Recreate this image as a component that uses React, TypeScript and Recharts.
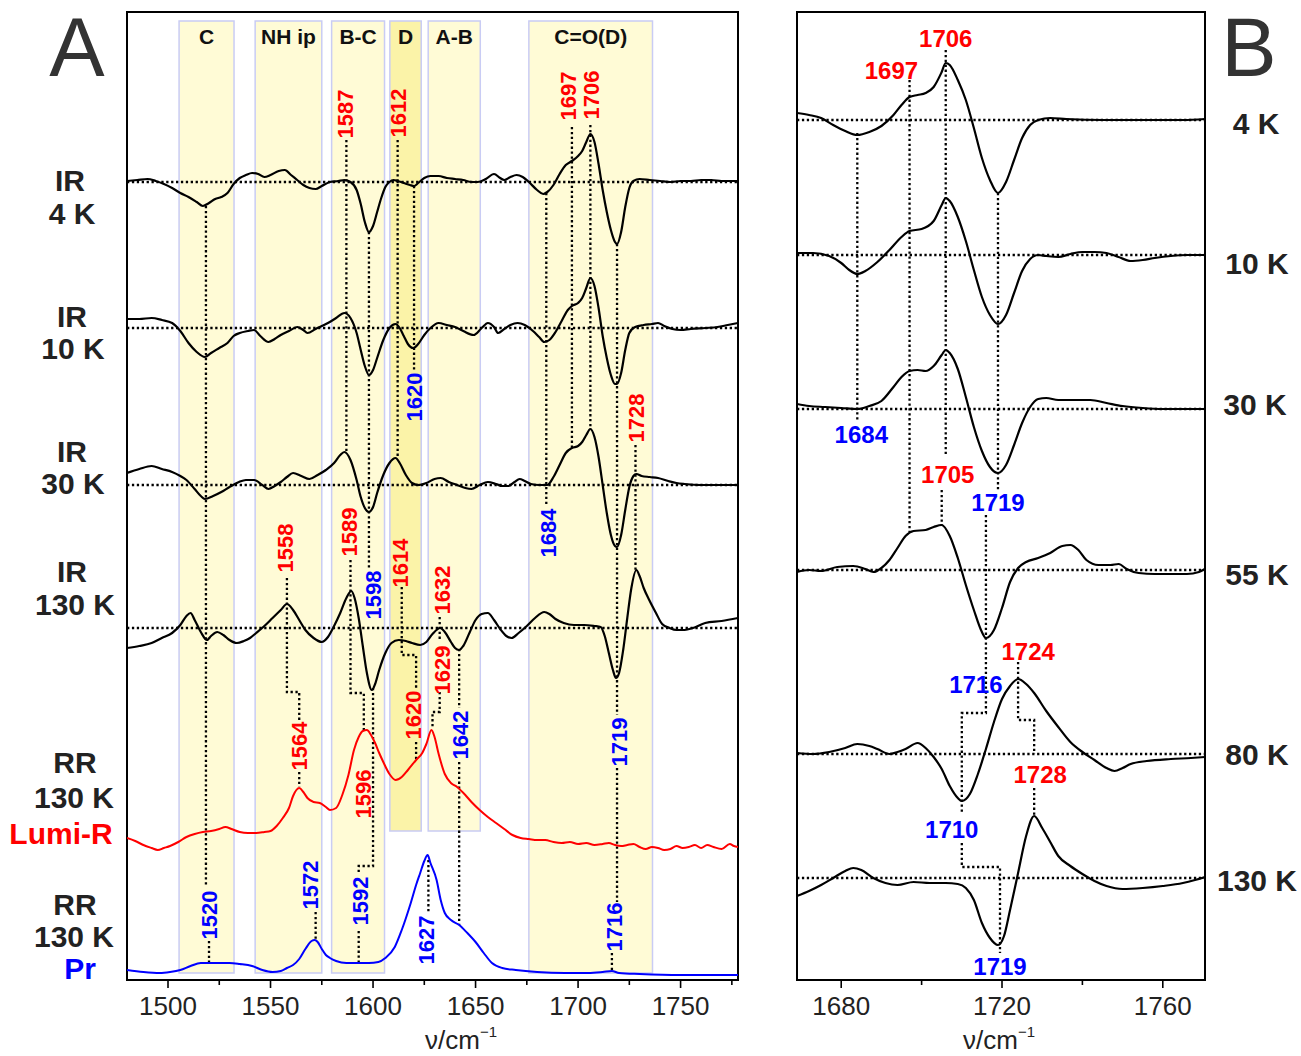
import React from "react";
import {
  ComposedChart,
  Line,
  Scatter,
  XAxis,
  YAxis,
  ReferenceArea,
  ReferenceLine,
} from "recharts";

const FONT = '"Liberation Sans", Arial, sans-serif';
const RED = "#ff0000";
const BLUE = "#0000ff";
const INK = "#222";

// ---- axes ----
const aDomain = [1480, 1778];
const aTicks = [1500, 1525, 1550, 1575, 1600, 1625, 1650, 1675, 1700, 1725, 1750, 1775];
const aMajor = [1500, 1550, 1600, 1650, 1700, 1750];
const bDomain = [1669, 1770.5];
const bTicks = [1680, 1700, 1720, 1740, 1760];
const bMajor = [1680, 1720, 1760];
const yTop = 968;

// ---- panel A marker bands ----
const bandNames = ["C", "NH ip", "B-C", "D", "A-B", "C=O(D)"];
const bandFrom = [1505.4, 1542.5, 1579.8, 1608.2, 1626.9, 1676];
const bandTo = [1532.2, 1575, 1605.6, 1623.5, 1652.3, 1736.3];
const bandLow = [7, 7, 7, 149, 149, 7];
const bandHigh = 959;

// ---- panel A spectra: [wavenumber, signal] ----
const offA4 = 798;
const offA10 = 652;
const offA30 = 495;
const offA130 = 352;
const offLumi = 130;
const offPr = 5;

const irA4 = [
  [1480, 1], [1485, 2], [1490, 3], [1494, 1], [1498, -2], [1502, -6], [1506, -11], [1510, -15],
  [1514, -20], [1517, -24], [1520, -21], [1523, -17], [1526, -15], [1529, -11], [1532, -2], [1535, 4],
  [1538, 7], [1541, 9], [1544, 8], [1547, 5], [1550, 7], [1554, 11], [1557, 12], [1560, 7],
  [1563, 2], [1566, -3], [1569, -6], [1572, -7], [1575, -4], [1579, 0], [1583, 1], [1586, 2],
  [1589, 0], [1592, -8], [1594, -22], [1596, -40], [1598, -50], [1600, -44], [1602, -30], [1604, -16],
  [1606, -5], [1608, 0], [1610, 2], [1612, 1], [1615, -1], [1618, -3], [1620, -4], [1622, -1],
  [1625, 4], [1628, 6], [1632, 6], [1636, 4], [1640, 3], [1644, 2], [1648, 0], [1651, 0],
  [1655, 3], [1659, 8], [1662, 4], [1664, 2], [1667, 5], [1670, 7], [1673, 5], [1676, 0],
  [1680, -8], [1683, -12], [1685, -10], [1688, -3], [1691, 8], [1694, 17], [1697, 21], [1700, 26],
  [1702, 31], [1704, 40], [1706, 48], [1708, 40], [1710, 18], [1712, -8], [1714, -30], [1716, -48],
  [1718, -60], [1719, -62], [1721, -50], [1723, -25], [1725, -6], [1727, 1], [1730, 3], [1735, 2],
  [1740, 1], [1745, 0], [1750, 1], [1755, 1], [1760, 2], [1765, 2], [1770, 1], [1778, 1],
];

const irA10 = [
  [1480, 9], [1486, 9], [1492, 10], [1497, 8], [1502, 5], [1506, -3], [1510, -15], [1514, -24],
  [1518, -29], [1521, -25], [1525, -20], [1529, -15], [1532, -8], [1535, -5], [1539, -3], [1542, -2],
  [1545, -8], [1549, -14], [1552, -11], [1555, -7], [1559, -3], [1563, 1], [1566, -2], [1568, -5],
  [1572, -1], [1578, 5], [1582, 10], [1586, 15], [1589, 10], [1592, -5], [1594, -22], [1596, -38],
  [1598, -47], [1600, -42], [1602, -30], [1605, -12], [1608, 0], [1611, 4], [1613, 0], [1615, -8],
  [1617, -16], [1619.5, -20], [1622, -16], [1625, -7], [1628, 0], [1632, 5], [1636, 3], [1640, 1],
  [1644, -3], [1649, -7], [1653, 0], [1656, 5], [1659, 1], [1661, -5], [1664, -1], [1667, 3],
  [1670.5, 5], [1674, 3], [1678, -3], [1681, -9], [1683.5, -14], [1686, -12], [1689, -4], [1692, 7],
  [1695, 18], [1697, 22], [1700, 25], [1702, 30], [1704, 40], [1706, 50], [1708, 42], [1710, 20],
  [1712, -8], [1714, -30], [1716, -47], [1718, -56], [1719, -56], [1721, -45], [1723, -22], [1725, -5],
  [1727.8, 1], [1732, 3], [1736, 4], [1739, 5], [1742, 2], [1746, -1], [1750, -2], [1755, -1],
  [1762, 0], [1768, 1], [1773, 3], [1778, 5],
];

const irA30 = [
  [1480, 12], [1486, 16], [1492, 19], [1497, 16], [1502, 13], [1506, 9], [1509, 5], [1513, -4],
  [1516, -11], [1518, -14], [1522, -11], [1526, -7], [1530, -2], [1534.6, 3], [1538, 5], [1542, 5],
  [1546, 0], [1549, -4], [1552, -1], [1555, 3], [1558, 8], [1561, 12], [1565, 9], [1569, 6],
  [1573, 10], [1577, 15], [1581, 22], [1584, 30], [1586, 33], [1589, 25], [1592, 5], [1594, -12],
  [1596, -23], [1598, -27], [1600, -22], [1602, -8], [1605, 10], [1608, 22], [1611, 27], [1613, 22],
  [1616, 10], [1619, 2], [1622, 0], [1626, 2], [1630, 6], [1633, 7], [1637, 3], [1641, 0],
  [1645, -3], [1648, -4], [1652, 0], [1656, 3], [1660, 1], [1663, -1], [1666, -1], [1669, 3],
  [1671.5, 6], [1674, 4], [1677, 1], [1681, 0], [1685, 0], [1688, 8], [1691, 20], [1694, 32],
  [1697, 37], [1700, 39], [1702, 43], [1704, 50], [1706, 56], [1708, 48], [1710, 28], [1712, 0],
  [1714, -28], [1716, -50], [1718, -61], [1719, -62], [1721, -50], [1723, -25], [1725, -2], [1727, 9],
  [1728.4, 11], [1731, 9], [1735, 8], [1739, 7], [1744, 4], [1748, 2], [1752, 1], [1760, 0],
  [1770, 0], [1778, 0],
];

const irA130 = [
  [1480, -20], [1486, -18], [1492, -15], [1497, -10], [1502, -5], [1506, 3], [1509, 12], [1511, 15],
  [1513, 8], [1516, -4], [1519, -12], [1521, -8], [1524, -4], [1527, -7], [1530, -12], [1533.6, -15],
  [1537, -13], [1540, -10], [1543, -5], [1547, 2], [1551, 10], [1555, 18], [1558, 24], [1561, 18],
  [1564, 8], [1567, -2], [1571, -10], [1575, -14], [1578, -9], [1581, 2], [1584, 15], [1587, 30],
  [1589.4, 37], [1591, 30], [1593, 10], [1595, -18], [1597, -45], [1599.4, -62], [1601, -56], [1603, -42],
  [1606, -25], [1609, -15], [1612.5, -12], [1616, -13], [1619, -15], [1623, -17], [1626, -14], [1629, -6],
  [1632.8, 0], [1635, -4], [1638, -14], [1640, -20], [1642, -22], [1644, -18], [1647, -5], [1650, 8],
  [1653, 14], [1656, 15], [1659, 8], [1662, -1], [1665, -8], [1667.6, -10], [1671, -5], [1675, 2],
  [1679, 10], [1683.5, 16], [1686, 14], [1689, 9], [1693, 5], [1698, 3], [1703, 3], [1708, 2],
  [1711, 1], [1713, -8], [1715, -25], [1717, -42], [1718.5, -50], [1720, -45], [1722, -22], [1724, 10],
  [1726, 40], [1728.4, 58], [1730, 52], [1732, 40], [1734.7, 28], [1738, 15], [1741, 4], [1744.6, 0],
  [1748, -2], [1752, -2], [1756, 0], [1762, 5], [1770, 7], [1778, 10],
];

const rrLumiR = [
  [1480, 12], [1484, 9], [1488, 5], [1492, 2], [1495, 0], [1498, 2], [1501, 4], [1505, 8],
  [1509, 13], [1513, 16], [1517, 18], [1521, 19], [1525, 21], [1528, 23], [1531, 21], [1535, 18],
  [1539, 17], [1543, 17], [1547, 18], [1550, 19], [1553, 24], [1556, 32], [1559, 42], [1561, 54],
  [1564, 62], [1566, 58], [1568, 52], [1571, 48], [1574, 47], [1577, 43], [1579, 40], [1582, 42],
  [1585, 55], [1588, 75], [1590.7, 100], [1593, 113], [1595, 119], [1597, 120], [1599, 115], [1601, 107],
  [1603, 97], [1605, 88], [1608, 76], [1611, 70], [1614, 73], [1617, 80], [1621, 90], [1624, 97],
  [1626, 106], [1628.5, 120], [1630, 113], [1632, 96], [1635, 76], [1638, 67], [1641, 63], [1645, 55],
  [1648, 48], [1652, 40], [1656, 33], [1660, 27], [1664, 21], [1668, 15], [1672, 12], [1676, 11],
  [1680, 10], [1684, 10], [1688, 8], [1692, 7], [1696, 8], [1700, 6], [1704, 7], [1708, 5],
  [1712, 6], [1715, 7], [1718, 5], [1721, 4], [1724, 5], [1727, 6], [1730, 3], [1733, 1],
  [1736, 3], [1739, 2], [1742, 0], [1745, 1], [1748, 4], [1751, 2], [1754, 3], [1757, 5],
  [1760, 2], [1763, 5], [1766, 3], [1770, 1], [1774, 6], [1776, 4], [1778, 3],
];

const rrPr = [
  [1480, 5], [1488, 3], [1496, 2], [1501, 3], [1506, 5], [1511, 9], [1516, 12], [1520, 12],
  [1525, 12], [1530, 12], [1535, 11], [1541, 9], [1546, 5], [1551, 3], [1555, 4], [1558, 7],
  [1561, 10], [1564, 16], [1567, 26], [1570, 34], [1571.6, 35], [1573, 33], [1575, 26], [1577, 20],
  [1579, 17], [1582, 14], [1587, 12], [1593, 12], [1598, 12], [1602.6, 13], [1606, 17], [1610.6, 28],
  [1614, 45], [1618.4, 72], [1621, 90], [1623, 102], [1625, 114], [1626.6, 120], [1628, 112], [1631, 95],
  [1633, 75], [1635, 62], [1638, 55], [1642, 50], [1646, 42], [1650, 33], [1654, 22], [1658, 12],
  [1663, 7], [1669.6, 5], [1680, 3], [1693.6, 2], [1705, 2], [1712, 3], [1716.5, 4], [1720, 2],
  [1730, 1], [1750, 0], [1778, 0],
];

// ---- panel A peak connectors (wavenumber, height) ----
const aGuides = [
  [[1518.5, 774], [1518.5, 93]],
  [[1520, 39], [1520, 17]],
  [[1558, 402], [1558, 288], [1564, 288], [1564, 260]],
  [[1564, 208], [1564, 193]],
  [[1587, 840], [1587, 528]],
  [[1589, 420], [1589, 287], [1595.5, 287], [1595.5, 250]],
  [[1598, 748], [1598, 412]],
  [[1600, 292], [1600, 114], [1593, 114], [1593, 108]],
  [[1593, 49], [1593, 17]],
  [[1612, 840], [1612, 522]],
  [[1614, 393], [1614, 325], [1621, 325], [1621, 291]],
  [[1621, 238], [1621, 220]],
  [[1620, 794], [1620, 609]],
  [[1632.5, 363], [1632.5, 340]],
  [[1632.5, 288], [1632.5, 268], [1629, 268], [1629, 252]],
  [[1642, 331], [1642, 272]],
  [[1642, 218], [1642, 55]],
  [[1627, 120], [1627, 67]],
  [[1572, 68], [1572, 41]],
  [[1684.5, 787], [1684.5, 475]],
  [[1697, 853], [1697, 533]],
  [[1706, 855], [1706, 551]],
  [[1719, 736], [1719, 265]],
  [[1719, 212], [1719, 78]],
  [[1716.5, 27], [1716.5, 9]],
  [[1728, 535], [1728, 410]],
];

const aRedTags = [
  [1586.5, 866, "1587"], [1612.5, 867, "1612"], [1695.5, 884, "1697"], [1706.5, 885, "1706"],
  [1728.5, 562, "1728"], [1557.5, 432, "1558"], [1588.5, 448, "1589"], [1613.5, 417, "1614"],
  [1634, 390, "1632"], [1564, 234, "1564"], [1619.5, 265, "1620"], [1634, 310, "1629"],
  [1595.5, 186, "1596"],
];
const aBlueTags = [
  [1620, 583, "1620"], [1685.5, 447, "1684"], [1600, 385, "1598"], [1642.5, 245, "1642"],
  [1720, 238, "1719"], [1520, 65, "1520"], [1569.5, 95, "1572"], [1594, 79, "1592"],
  [1626, 40, "1627"], [1718, 53, "1716"],
];

// ---- panel B spectra ----
const offB4 = 860;
const offB10 = 725;
const offB30 = 571;
const offB55 = 410;
const offB80 = 226;
const offB130 = 102;

const irB4 = [
  [1669, 7], [1672, 5], [1675, 2], [1678, -5], [1681, -11], [1684, -15], [1687, -12], [1690, -6],
  [1693, 5], [1695, 15], [1697, 23], [1699, 25], [1701, 27], [1703, 33], [1705, 48], [1706, 57],
  [1707, 55], [1709, 40], [1711, 20], [1713, -8], [1715, -38], [1717, -60], [1719, -73], [1721, -62],
  [1723, -40], [1725, -18], [1727, -5], [1729, 0], [1732, 2], [1736, 1], [1745, 0], [1755, 0],
  [1765, 0], [1770.5, 1],
];
const irB10 = [
  [1669, 2], [1673, 2], [1677, -1], [1680, -8], [1682, -15], [1684, -19], [1686, -16], [1689, -7],
  [1692, 5], [1695, 18], [1697, 24], [1700, 26], [1703, 34], [1705, 50], [1706, 57], [1707, 54],
  [1709, 38], [1711, 14], [1713, -15], [1715, -42], [1717, -60], [1719, -69], [1721, -60], [1723, -38],
  [1725, -16], [1727, -4], [1729, 0], [1731, -1], [1734, -2], [1737, 1], [1740, 3], [1743, 3],
  [1746, 2], [1749, -2], [1752, -6], [1755, -5], [1758, -3], [1762, -1], [1766, 0], [1770.5, 0],
];
const irB30 = [
  [1669, 5], [1672, 3], [1676, 2], [1680, 1], [1684, 0], [1687, 3], [1690, 8], [1693, 22],
  [1695, 32], [1697, 38], [1699, 39], [1701, 38], [1703, 43], [1705, 54], [1706, 59], [1707, 56],
  [1709, 40], [1711, 12], [1713, -18], [1715, -42], [1717, -58], [1719, -64], [1721, -56], [1723, -36],
  [1725, -14], [1727, 2], [1729, 10], [1731, 11], [1734, 9], [1738, 9], [1742, 9], [1746, 6],
  [1750, 3], [1755, 1], [1760, 0], [1770.5, 0],
];
const irB55 = [
  [1669, -2], [1672, 0], [1675, -1], [1679, 3], [1683, 4], [1686, 1], [1688, -2], [1690, 2],
  [1692, 10], [1694, 22], [1696, 34], [1698, 39], [1701, 40], [1703, 43], [1705, 45], [1707, 34],
  [1709, 12], [1711, -15], [1713, -40], [1715, -62], [1716, -68], [1718, -60], [1720, -38], [1722, -12],
  [1724, 2], [1726, 8], [1729, 12], [1732, 17], [1735, 24], [1737, 25], [1739, 20], [1741, 10],
  [1744, 5], [1747, 5], [1749, 6], [1751, 1], [1754, -3], [1758, -4], [1762, -4], [1766, -4],
  [1769, -2], [1770.5, 1],
];
const irB80 = [
  [1669, 1], [1673, 0], [1677, 2], [1681, 6], [1684, 10], [1687, 8], [1689, 5], [1692, 0],
  [1694, 2], [1696, 5], [1699, 11], [1701, 6], [1703, -3], [1705, -15], [1707, -32], [1709, -44],
  [1710, -47], [1712, -40], [1714, -20], [1716, 5], [1718, 32], [1720, 55], [1722, 68], [1724, 75],
  [1726, 70], [1728, 61], [1731, 43], [1734, 27], [1737, 12], [1740, 2], [1743, -6], [1746, -14],
  [1748, -17], [1750, -14], [1752, -10], [1756, -7], [1762, -5], [1767, -4], [1770.5, -3],
];
const irB130 = [
  [1669, -18], [1672, -13], [1675, -7], [1678, 0], [1681, 7], [1683, 10], [1685, 8], [1688, 0],
  [1691, -5], [1694, -7], [1698, -4], [1702, -5], [1706, -5], [1709, -6], [1711, -10], [1713, -22],
  [1715, -45], [1717, -60], [1719, -67], [1720.5, -58], [1722, -32], [1724, 5], [1726, 42], [1728, 62],
  [1730, 50], [1732, 36], [1734, 22], [1737, 12], [1740, 4], [1743, -3], [1746, -8], [1750, -11],
  [1755, -10], [1760, -8], [1765, -5], [1768, -2], [1770.5, 1],
];

const bGuides = [
  [[1706, 930], [1706, 525]],
  [[1705, 490], [1705, 455]],
  [[1697, 900], [1697, 448]],
  [[1684, 847], [1684, 558]],
  [[1719, 787], [1719, 490]],
  [[1716, 465], [1716, 267], [1710, 267], [1710, 168]],
  [[1710, 137], [1710, 113], [1719.5, 113], [1719.5, 27]],
  [[1724, 318], [1724, 260], [1728, 260], [1728, 226]],
  [[1728, 192], [1728, 164]],
];
const bRedTags = [
  [1706, 942, "1706"], [1692.5, 910, "1697"], [1706.5, 506, "1705"], [1726.5, 329, "1724"],
  [1729.5, 206, "1728"],
];
const bBlueTags = [
  [1685, 546, "1684"], [1719, 478, "1719"], [1713.5, 296, "1716"], [1707.5, 151, "1710"],
  [1719.5, 14, "1719"],
];

const shift = (pts: number[][], base: number) => pts.map(([x, d]) => ({ x, y: base + d }));
const pts = (p: number[][]) => p.map(([x, y]) => ({ x, y }));
const tags = (t: any[]) => t.map(([x, y, s]) => ({ x, y, s }));

const TICK_SIZE = 7;
const TICK_MARGIN = 10;

function AxisTick(props: any) {
  const { x, y, payload, majors } = props;
  const major = majors.includes(payload.value);
  const top = y - TICK_SIZE - TICK_MARGIN;
  return (
    <g>
      <line x1={x} x2={x} y1={top} y2={top + (major ? 8 : 5)} stroke="#000" strokeWidth={1.6} />
      {major && (
        <text x={x} y={y} dy="0.71em" textAnchor="middle" fontSize={26} fill={INK} fontFamily={FONT}>
          {payload.value}
        </text>
      )}
    </g>
  );
}

const vTag = (color: string) => (p: any) => (
  <text
    x={p.cx}
    y={p.cy}
    transform={`rotate(-90 ${p.cx} ${p.cy})`}
    textAnchor="middle"
    dominantBaseline="central"
    fontSize={22}
    fontWeight="bold"
    fill={color}
    fontFamily={FONT}
  >
    {p.payload.s}
  </text>
);

const hTag = (color: string) => (p: any) => (
  <text
    x={p.cx}
    y={p.cy}
    textAnchor="middle"
    dominantBaseline="central"
    fontSize={24}
    fontWeight="bold"
    fill={color}
    fontFamily={FONT}
  >
    {p.payload.s}
  </text>
);

const dotted = { stroke: "#000", strokeWidth: 2.3, strokeDasharray: "2.3 2.6" };

function PanelA() {
  return (
    <ComposedChart width={750} height={1056} margin={{ top: 12, right: 12, bottom: 0, left: 127 }}>
      <XAxis
        type="number"
        dataKey="x"
        domain={aDomain}
        allowDataOverflow
        ticks={aTicks}
        interval={0}
        height={76}
        tickSize={TICK_SIZE}
        tickMargin={TICK_MARGIN}
        tickLine={false}
        axisLine={{ stroke: "#000", strokeWidth: 2 }}
        tick={(p: any) => <AxisTick {...p} majors={aMajor} />}
      />
      <YAxis type="number" domain={[0, yTop]} allowDataOverflow hide />
      {bandNames.map((name, i) => (
        <ReferenceArea
          key={name}
          x1={bandFrom[i]}
          x2={bandTo[i]}
          y1={bandLow[i]}
          y2={bandHigh}
          fill={name === "D" ? "#fbf3a8" : "#fffbd6"}
          fillOpacity={1}
          stroke="#c9ccf4"
          strokeWidth={1.5}
          label={{ value: name, position: "insideTop", offset: 8, fill: "#111", fontSize: 21, fontWeight: "bold", fontFamily: FONT }}
        />
      ))}
      <ReferenceArea x1={aDomain[0]} x2={aDomain[1]} y1={0} y2={yTop} fill="none" stroke="#000" strokeWidth={2} ifOverflow="visible" />
      {[offA4, offA10, offA30, offA130].map((o) => (
        <ReferenceLine key={o} y={o} {...dotted} />
      ))}
      {aGuides.map((g, i) => (
        <Line key={"g" + i} data={pts(g)} dataKey="y" type="linear" dot={false} activeDot={false} isAnimationActive={false} {...dotted} />
      ))}
      {[
        [irA4, offA4],
        [irA10, offA10],
        [irA30, offA30],
        [irA130, offA130],
      ].map(([d, o]: any, i) => (
        <Line key={"a" + i} data={shift(d, o)} dataKey="y" type="monotone" dot={false} activeDot={false} stroke="#000" strokeWidth={2.2} isAnimationActive={false} />
      ))}
      <Line data={shift(rrLumiR, offLumi)} dataKey="y" type="monotone" dot={false} activeDot={false} stroke={RED} strokeWidth={2} isAnimationActive={false} />
      <Line data={shift(rrPr, offPr)} dataKey="y" type="monotone" dot={false} activeDot={false} stroke={BLUE} strokeWidth={2} isAnimationActive={false} />
      <Scatter data={tags(aRedTags)} dataKey="y" shape={vTag(RED)} isAnimationActive={false} />
      <Scatter data={tags(aBlueTags)} dataKey="y" shape={vTag(BLUE)} isAnimationActive={false} />
    </ComposedChart>
  );
}

function PanelB() {
  const series = [
    [irB4, offB4],
    [irB10, offB10],
    [irB30, offB30],
    [irB55, offB55],
    [irB80, offB80],
    [irB130, offB130],
  ];
  return (
    <ComposedChart width={460} height={1056} margin={{ top: 12, right: 15, bottom: 0, left: 37 }}>
      <XAxis
        type="number"
        dataKey="x"
        domain={bDomain}
        allowDataOverflow
        ticks={bTicks}
        interval={0}
        height={76}
        tickSize={TICK_SIZE}
        tickMargin={TICK_MARGIN}
        tickLine={false}
        axisLine={{ stroke: "#000", strokeWidth: 2 }}
        tick={(p: any) => <AxisTick {...p} majors={bMajor} />}
      />
      <YAxis type="number" domain={[0, yTop]} allowDataOverflow hide />
      <ReferenceArea x1={bDomain[0]} x2={bDomain[1]} y1={0} y2={yTop} fill="none" stroke="#000" strokeWidth={2} ifOverflow="visible" />
      {series.map(([, o]: any) => (
        <ReferenceLine key={o} y={o} {...dotted} />
      ))}
      {bGuides.map((g, i) => (
        <Line key={"g" + i} data={pts(g)} dataKey="y" type="linear" dot={false} activeDot={false} isAnimationActive={false} {...dotted} />
      ))}
      {series.map(([d, o]: any, i) => (
        <Line key={"b" + i} data={shift(d, o)} dataKey="y" type="monotone" dot={false} activeDot={false} stroke="#000" strokeWidth={2.2} isAnimationActive={false} />
      ))}
      <Scatter data={tags(bRedTags)} dataKey="y" shape={hTag(RED)} isAnimationActive={false} />
      <Scatter data={tags(bBlueTags)} dataKey="y" shape={hTag(BLUE)} isAnimationActive={false} />
    </ComposedChart>
  );
}

const sideA = [
  ["IR", 70, 180, INK], ["4 K", 72, 213, INK],
  ["IR", 72, 316, INK], ["10 K", 73, 348, INK],
  ["IR", 72, 451, INK], ["30 K", 73, 483, INK],
  ["IR", 72, 571, INK], ["130 K", 75, 604, INK],
  ["RR", 75, 762, INK], ["130 K", 74, 797, INK], ["Lumi-R", 61, 833, RED],
  ["RR", 75, 904, INK], ["130 K", 74, 936, INK], ["Pr", 80, 968, BLUE],
];
const sideB = [
  ["4 K", 1256, 123], ["10 K", 1257, 263], ["30 K", 1255, 404],
  ["55 K", 1257, 574], ["80 K", 1257, 754], ["130 K", 1257, 880],
];

export default function App() {
  return (
    <div style={{ position: "absolute", left: 0, top: 0, width: 1301, height: 1056, background: "#fff", fontFamily: FONT }}>
      <div style={{ position: "absolute", left: 0, top: 0 }}>
        <PanelA />
      </div>
      <div style={{ position: "absolute", left: 760, top: 0 }}>
        <PanelB />
      </div>
      <svg width={1301} height={1056} style={{ position: "absolute", left: 0, top: 0, pointerEvents: "none" }} fontFamily={FONT}>
        <text x={77} y={76} textAnchor="middle" fontSize={83} fill="#333">A</text>
        <text x={1249} y={76} textAnchor="middle" fontSize={83} fill="#333">B</text>
        {sideA.map(([t, x, y, c]: any, i) => (
          <text key={i} x={x} y={y} textAnchor="middle" dominantBaseline="central" fontSize={30} fontWeight="bold" fill={c}>
            {t}
          </text>
        ))}
        {sideB.map(([t, x, y]: any, i) => (
          <text key={i} x={x} y={y} textAnchor="middle" dominantBaseline="central" fontSize={30} fontWeight="bold" fill={INK}>
            {t}
          </text>
        ))}
        <text x={461} y={1049} textAnchor="middle" fontSize={26} fill={INK}>
          ν/cm<tspan fontSize={15} dy={-12}>−1</tspan>
        </text>
        <text x={999} y={1049} textAnchor="middle" fontSize={26} fill={INK}>
          ν/cm<tspan fontSize={15} dy={-12}>−1</tspan>
        </text>
      </svg>
    </div>
  );
}
